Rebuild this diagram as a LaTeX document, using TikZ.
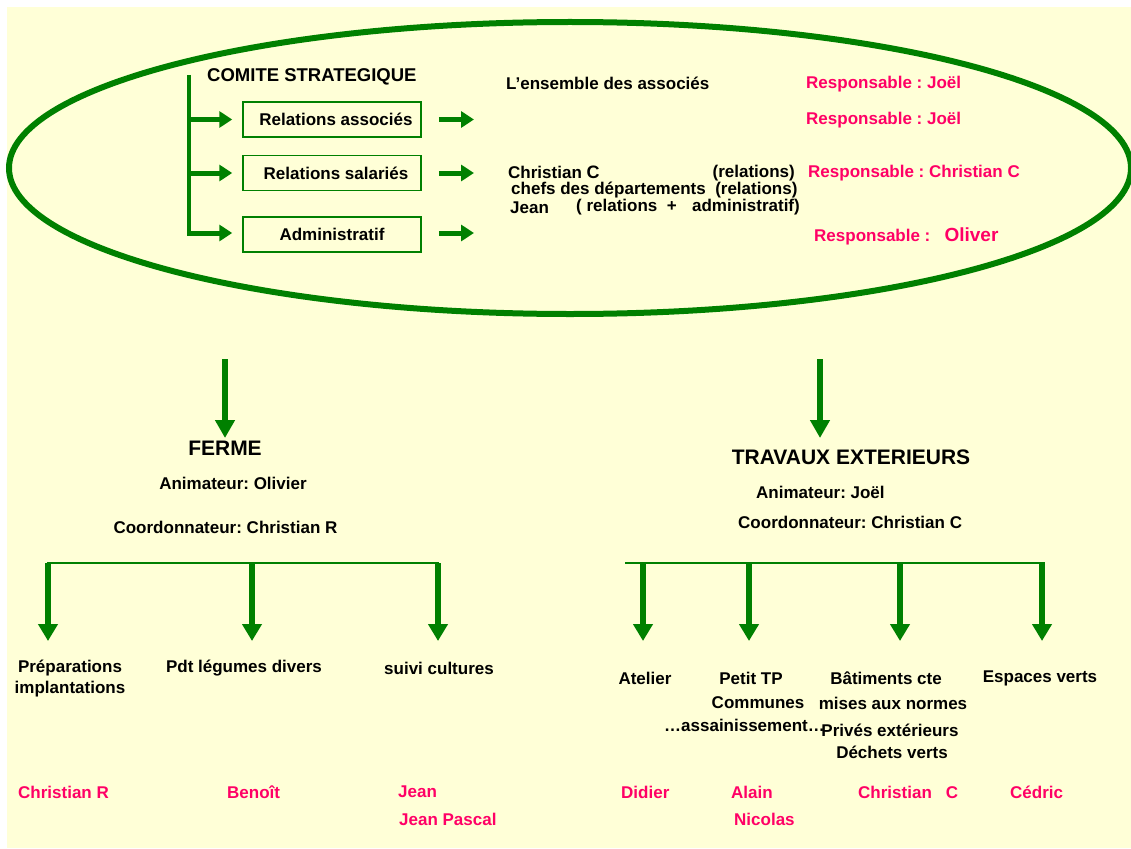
\documentclass[tikz,border=0pt]{standalone}
\usepackage{fontspec}
\setmainfont{Liberation Sans}
\usetikzlibrary{arrows.meta}
\definecolor{bg}{HTML}{FFFFD7}
\definecolor{dg}{HTML}{008000}
\definecolor{pk}{HTML}{FF0066}
\frenchspacing
\tikzset{
  txt/.style={inner sep=0pt, font=\fontsize{17}{18}\selectfont\bfseries},
  pinktxt/.style={txt, text=pk},
  bigtxt/.style={inner sep=0pt, font=\fontsize{21}{24}\selectfont\bfseries},
  boxnode/.style={draw=dg, line width=1.5pt, minimum width=178pt, minimum height=35pt, inner sep=0pt, txt},
  harrow/.style={dg, line width=5pt, -{Triangle[length=13pt,width=16pt]}},
  varrow/.style={dg, line width=6pt, -{Triangle[length=18pt,width=19pt]}},
  sarrow/.style={dg, line width=5.5pt, -{Triangle[length=17pt,width=19pt]}},
  barline/.style={dg, line width=2pt},
}
\begin{document}
\begin{tikzpicture}[x=1pt,y=-1pt]
\useasboundingbox (0,0) rectangle (1131,848);
\fill[white] (0,0) rectangle (1131,848);
\fill[bg] (7,7) rectangle (1131,848);
\begin{scope}
\clip (0,0) rectangle (1131,848);
\draw[dg, line width=6pt] (570,168) ellipse [x radius=561, y radius=146];
\end{scope}

% comite
\node[txt, anchor=west, font=\fontsize{18.5}{20}\selectfont\bfseries] (comite) at (207,77) {COMITE STRATEGIQUE};
\node[boxnode] (ra) at (332,119.5) {\hspace{8pt}Relations associés};
\node[boxnode] (rs) at (332,173) {\hspace{8pt}Relations salariés};
\node[boxnode] (ad) at (332,234.5) {Administratif};

\coordinate (brtop) at (189,75);
\coordinate (brbot) at (189,235.5);
\draw[dg, line width=4pt] (brtop) -- (brbot);
\draw[harrow] (brtop |- ra) -- ([xshift=-10pt]ra.west);
\draw[harrow] (brtop |- rs) -- ([xshift=-10pt]rs.west);
\draw[harrow] (189,233) -- ([xshift=-10pt]ad.west |- 0,233);

\coordinate (ea1) at (474,119.5);
\coordinate (ea2) at (474,173);
\coordinate (ea3) at (474,233);
\draw[harrow] ([xshift=17pt]ra.east) -- (ea1);
\draw[harrow] ([xshift=17pt]rs.east) -- (ea2);
\draw[harrow] ([xshift=17pt]ad.east |- ea3) -- (ea3);

\node[txt, anchor=west] (ens) at (506,83) {L’ensemble des associés};
\node[pinktxt, anchor=west] (r1) at (806,84) {Responsable : Joël};
\node[pinktxt, anchor=west] (r2) at (806,120) {Responsable : Joël};
\node[pinktxt, anchor=west] (r3) at (808,173) {Responsable : Christian C};
\node[pinktxt, anchor=west] (r4) at (814,236) {Responsable :\ \ \ {\fontsize{19}{20}\selectfont Oliver}};

\node[txt, anchor=west] (p1a) at (508,172) {Christian {\fontsize{18}{19}\selectfont C}};
\node[txt, anchor=east] (p1b) at (795,173) {(relations)};
\node[txt, anchor=west] (p2) at (511,190) {chefs des départements\ \ (relations)};
\node[txt, anchor=west] (p3a) at (510,207.5) {Jean};
\node[txt, anchor=west] (p3b) at (576,207.5) {( relations\ \ +};
\node[txt, anchor=east] (p3c) at (800,207.5) {administratif)};

% down arrows
\coordinate (fa) at (225,359);
\coordinate (ft) at (225,438);
\coordinate (ta) at (820,359);
\coordinate (tt) at (820,438);
\draw[varrow] (fa) -- (ft);
\draw[varrow] (ta) -- (tt);

\node[bigtxt] (fe) at (225,448) {FERME};
\node[txt] (an1) at (233,483) {Animateur: Olivier};
\node[txt] (co1) at (225.5,527) {Coordonnateur: Christian R};

\node[bigtxt] (te) at (851,457) {TRAVAUX EXTERIEURS};
\node[txt, anchor=west] (an2) at (756,492) {Animateur: Joël};
\node[txt, anchor=west] (co2) at (738,522) {Coordonnateur: Christian C};

% left bar
\coordinate (lb1) at (48,563);
\coordinate (lb2) at (252,563);
\coordinate (lb3) at (438,563);
\draw[barline] (47,563) -- (439,563);
\draw[sarrow] (lb1) -- (48,641);
\draw[sarrow] (lb2) -- (252,641);
\draw[sarrow] (lb3) -- (438,641);

% right bar
\coordinate (rb1) at (643,563);
\coordinate (rb2) at (749,563);
\coordinate (rb3) at (900,563);
\coordinate (rb4) at (1042,563);
\draw[barline] (625,563) -- (1045,563);
\draw[sarrow] (rb1) -- (643,641);
\draw[sarrow] (rb2) -- (749,641);
\draw[sarrow] (rb3) -- (900,641);
\draw[sarrow] (rb4) -- (1042,641);

% items
\node[txt, align=center, font=\fontsize{17}{21}\selectfont\bfseries] (prep) at (70,678.5) {Préparations\\implantations};
\node[txt] (pdt) at (244,668) {Pdt légumes divers};
\node[txt] (suivi) at (439,668) {suivi cultures};

\node[txt] (atel) at (645,678) {Atelier};
\node[txt] (petit) at (751,678) {Petit TP};
\node[txt] (comm) at (758,703) {Communes};
\node[txt] (assain) at (744.5,725) {…assainissement…};
\node[txt] (bat) at (886,678) {Bâtiments cte};
\node[txt] (mises) at (893,703) {mises aux normes};
\node[txt] (prives) at (890,730) {Privés extérieurs};
\node[txt] (dech) at (892,752) {Déchets verts};
\node[txt] (esp) at (1040,678) {Espaces verts};

% people
\node[pinktxt, anchor=west] (n1) at (18,792) {Christian R};
\node[pinktxt, anchor=west] (n2) at (227,792) {Benoît};
\node[pinktxt, anchor=west] (n3) at (398,792) {Jean};
\node[pinktxt, anchor=west] (n4) at (399,819) {Jean Pascal};
\node[pinktxt, anchor=west] (n5) at (621,792) {Didier};
\node[pinktxt, anchor=west] (n6) at (731,792) {Alain};
\node[pinktxt, anchor=west] (n7) at (734,819) {Nicolas};
\node[pinktxt, anchor=west] (n8) at (858,792) {Christian\hspace{14pt}C};
\node[pinktxt, anchor=west] (n9) at (1010,792) {Cédric};
\end{tikzpicture}
\end{document}
